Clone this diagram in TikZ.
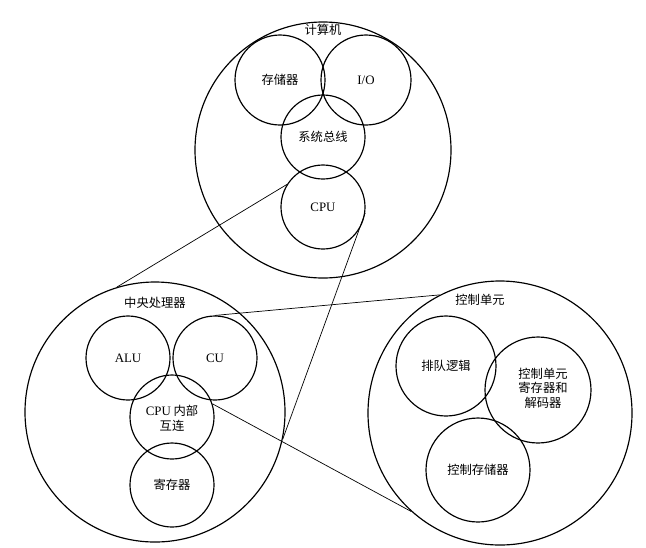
\documentclass[tikz,border=0pt]{standalone}
\usepackage{fontspec}
\setmainfont{Liberation Serif}
\newfontfamily\cjk{Noto Sans CJK SC}
\begin{document}
\begin{tikzpicture}[x=0.03cm,y=-0.03cm,
  circ/.style={draw,circle,line width=1pt,inner sep=0pt,minimum size=#1*0.06cm},
  lab/.style={font=\cjk\fontsize{10.5}{12.5}\selectfont,align=center},
  lat/.style={font=\fontsize{11}{13}\selectfont},
  link/.style={line width=0.6pt}]
\useasboundingbox (0,0) rectangle (646,547);
% computer
\node[circ=128] (comp) at (323,150) {};
\node[lab] (tcomp) at (323,30) {计算机};
\node[circ=45] (mem) at (280,80) {};
\node[circ=45] (io) at (366,80) {};
\node[circ=42] (bus) at (323,137) {};
\node[circ=42] (cpu) at (323,207) {};
\node[lab] at (mem) {存储器};
\node[lat] at (io) {I/O};
\node[lab] at (bus) {系统总线};
\node[lat] at (cpu) {CPU};
% CPU detail
\node[circ=130] (cpuB) at (155,412) {};
\node[lab] at (155,303) {中央处理器};
\node[circ=42] (alu) at (128,358) {};
\node[circ=42] (cu) at (215,358) {};
\node[circ=42] (ic) at (172,417) {};
\node[circ=42] (reg) at (172,485) {};
\node[lat] at (alu) {ALU};
\node[lat] at (cu) {CU};
\node[lab] at (172,418) {{\rmfamily\fontsize{11}{13}\selectfont CPU} 内部\\互连};
\node[lab] at (reg) {寄存器};
% control unit detail
\node[circ=132] (cuB) at (500,413) {};
\node[lab] at (480,300) {控制单元};
\node[circ=50] (q) at (446,366) {};
\node[circ=53] (cr) at (538,390) {};
\node[circ=52] (cs) at (478,470) {};
\node[lab] at (q) {排队逻辑};
\node[lab] at (543,388) {控制单元\\寄存器和\\解码器};
\node[lab] at (cs) {控制存储器};
% links
\draw[link] (cpu.148) -- (cpuB.107);
\draw[link] (cpu.-8) -- (cpuB.-12);
\draw[link] (cu.90) -- (cuB.117);
\draw[link] (ic.18) -- (cuB.-132);
\end{tikzpicture}
\end{document}
